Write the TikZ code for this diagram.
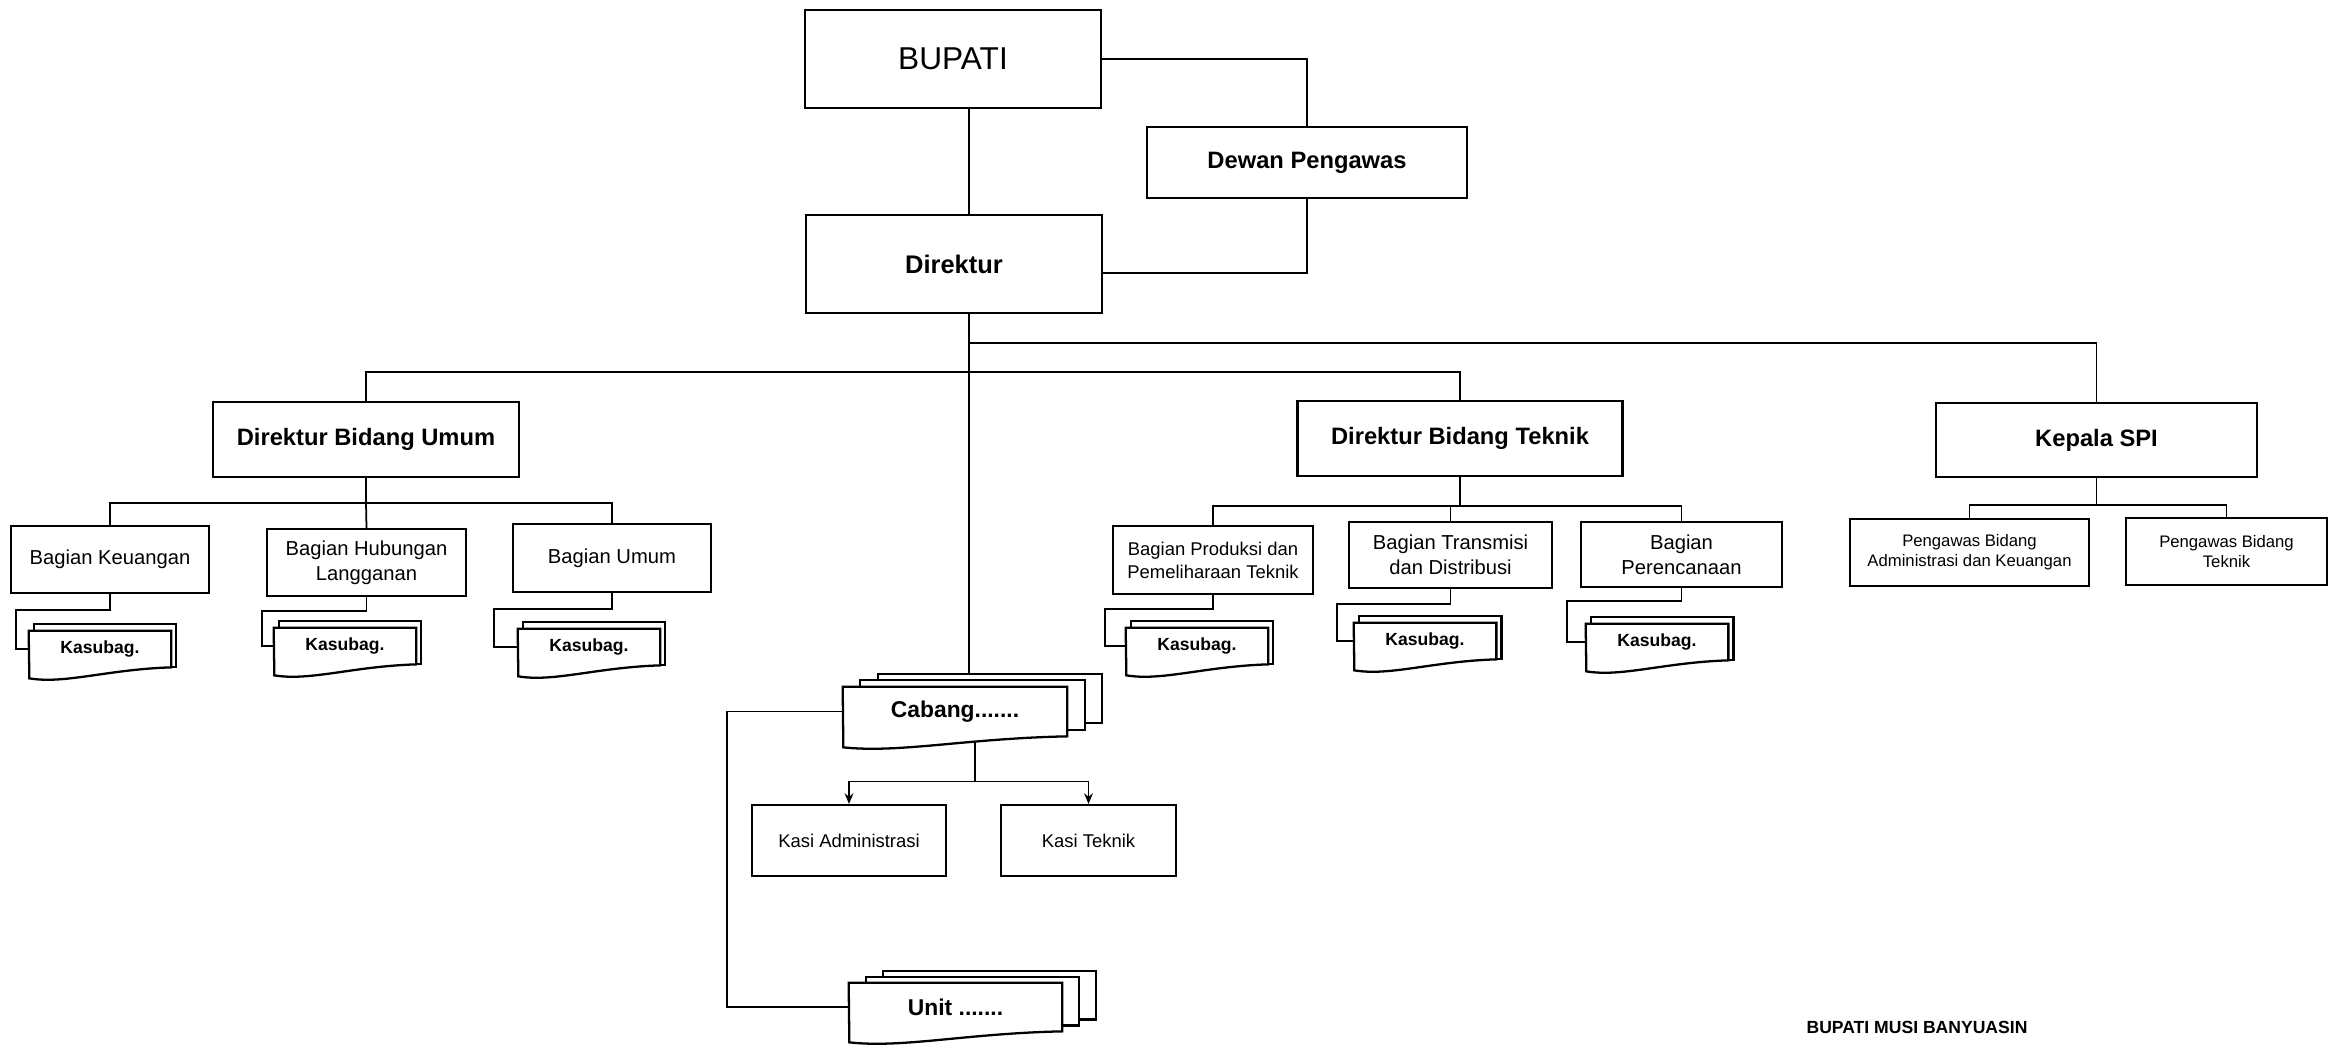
\documentclass[tikz,border=0pt]{standalone}
\usepackage{fontspec}
\setmainfont{Liberation Sans}
\usetikzlibrary{arrows.meta,backgrounds,calc}

\tikzset{
  box/.style={draw, line width=1.3pt, align=center, inner sep=1pt},
  line/.style={draw, line width=1pt},
  doc/.style={draw, fill=white, line width=1.3pt},
  kasubag/.style={inner sep=0pt, minimum width=2.84cm, minimum height=0.72cm, font=\bfseries\fontsize{10}{12}\selectfont},
  head/.style={font=\bfseries\fontsize{13.5}{16}\selectfont},
  bagian/.style={font=\fontsize{11.5}{14}\selectfont},
  small/.style={font=\fontsize{9.5}{11.5}\selectfont},
}

% stacked pages with a wavy bottom: node, width, back layers, dx, dy, bottom rise
\newcommand\docstack[6]{%
  \begin{scope}[on background layer]
    \foreach \k in {#3,...,1}{
      \draw[doc] ([shift={(\k*#4,-\k*#5)}]#1.north west) rectangle ([shift={(\k*#4,-\k*#6)}]#1.south east);
    }
    \draw[doc] (#1.north west) -- (#1.north east) -- (#1.south east)
      .. controls ([shift={(-0.45*#2,2)}]#1.south east) and ([shift={(-0.75*#2,17)}]#1.south east)
      .. ([shift={(-#2,11)}]#1.south east) coordinate[pos=0.34] (#1-wave) -- cycle;
    \coordinate (#1-back) at ([shift={(#3*#4,-#3*#5)}]#1.north west);
  \end{scope}}

\begin{document}
\begin{tikzpicture}[x=0.02cm,y=-0.02cm]
\useasboundingbox (0,0) rectangle (2338,1044);

% top
\node [box, minimum width=5.92cm, minimum height=1.96cm, font=\fontsize{18}{21}\selectfont] (bupati) at (953,59) {BUPATI};
\node [box, head, minimum width=6.4cm, minimum height=1.42cm] (dewan) at (1307,162.5) {Dewan Pengawas};
\node [box, minimum width=5.92cm, minimum height=1.96cm, font=\bfseries\fontsize{14.5}{17}\selectfont] (direktur) at (954,264) {Direktur};

% second level
\node [box, head, minimum width=6.12cm, minimum height=1.5cm] (dbu) at (366,439.5) {Direktur Bidang Umum};
\node [box, head, minimum width=6.5cm, minimum height=1.5cm] (dbt) at (1460,438.5) {Direktur Bidang Teknik};
\node [box, head, minimum width=6.42cm, minimum height=1.48cm] (kspi) at (2096.5,440) {Kepala SPI};

% bagian
\node [box, bagian, minimum width=3.96cm, minimum height=1.34cm] (keu) at (110,559.5) {Bagian Keuangan};
\node [box, bagian, minimum width=3.98cm, minimum height=1.34cm] (hub) at (366.5,562.5) {Bagian Hubungan\\Langganan};
\node [box, bagian, minimum width=3.96cm, minimum height=1.36cm] (umum) at (612,558) {Bagian Umum};
\node [box, minimum width=4.0cm, minimum height=1.36cm, font=\fontsize{10.5}{13}\selectfont] (prod) at (1213,560) {Bagian Produksi dan\\Pemeliharaan Teknik};
\node [box, bagian, minimum width=4.06cm, minimum height=1.32cm] (trans) at (1450.5,555) {Bagian Transmisi\\dan Distribusi};
\node [box, bagian, minimum width=4.02cm, minimum height=1.3cm] (renc) at (1681.5,554.5) {Bagian\\Perencanaan};
\node [box, small, minimum width=4.78cm, minimum height=1.34cm] (pwadm) at (1969.5,552.5) {Pengawas Bidang\\Administrasi dan Keuangan};
\node [box, small, minimum width=4.02cm, minimum height=1.34cm] (pwtek) at (2226.5,551.5) {Pengawas Bidang\\Teknik};

% kasubag
\node [kasubag] (ksbkeu) at (100,649) {Kasubag.};
\node [kasubag] (ksbhub) at (345,646) {Kasubag.};
\node [kasubag] (ksbumum) at (589,647) {Kasubag.};
\node [kasubag] (ksbprod) at (1197,646) {Kasubag.};
\node [kasubag] (ksbtrans) at (1425,641) {Kasubag.};
\node [kasubag] (ksbrenc) at (1657,642) {Kasubag.};
\docstack{ksbkeu}{142}{1}{5}{7}{0}
\docstack{ksbhub}{142}{1}{5}{7}{0}
\docstack{ksbumum}{142}{1}{5}{7}{0}
\docstack{ksbprod}{142}{1}{5}{7}{0}
\docstack{ksbtrans}{142}{1}{5}{7}{0}
\docstack{ksbrenc}{142}{1}{5}{7}{0}

% cabang and unit
\node [inner sep=0pt, minimum width=4.48cm, minimum height=0.98cm, font=\bfseries\fontsize{13}{15}\selectfont] (cabang) at (955,711.5) {Cabang.......};
\node [inner sep=0pt, minimum width=4.26cm, minimum height=0.96cm, font=\bfseries\fontsize{13}{15}\selectfont] (unit) at (955.5,1007) {Unit .......};
\docstack{cabang}{224}{2}{17.5}{6.5}{6.5}
\docstack{unit}{213}{2}{17}{6}{6}
\node [box, minimum width=3.88cm, minimum height=1.42cm, font=\fontsize{10.5}{13}\selectfont] (kasiadm) at (849,840.5) {Kasi Administrasi};
\node [box, minimum width=3.5cm, minimum height=1.42cm, font=\fontsize{10.5}{13}\selectfont] (kasitek) at (1088.5,840.5) {Kasi Teknik};

\node [font=\bfseries\fontsize{10}{12}\selectfont] (ttd) at (1917,1027) {BUPATI MUSI BANYUASIN};

% connectors
\coordinate (trunk) at (969,0);
\coordinate (spijoin) at (969,343);
\coordinate (bidjoin) at (969,372);
\draw [line] (bupati.south -| trunk) -- (direktur.north -| trunk);
\draw [line] (bupati.east) -| (dewan.north);
\draw [line] (dewan.south) |- ([yshift=-0.18cm]direktur.east);
\draw [line] (direktur.south -| trunk) -- (trunk |- cabang-back);
\draw [line] (spijoin) -| (kspi.north);
\draw [line] (dbu.north) |- (bidjoin) -| (dbt.north);

\draw [line] (dbu.south) -- ++(0,25) coordinate (dbusplit);
\draw [line] (keu.north) |- (dbusplit) -| (umum.north);
\draw [line] (dbusplit) -- (hub.north);
\draw [line] (dbt.south) -- ++(0,29) coordinate (dbtsplit);
\draw [line] (prod.north) |- (dbtsplit) -| (renc.north);
\draw [line] (dbtsplit) -| (trans.north);
\draw [line] (kspi.south) -- ++(0,27) coordinate (spisplit);
\draw [line] (pwadm.north) |- (spisplit) -| (pwtek.north);

\draw [line] (keu.south) -- ++(0,16) -| ([xshift=-0.26cm]ksbkeu.west) -- (ksbkeu.west);
\draw [line] (hub.south) -- ++(0,14) -| ([xshift=-0.24cm]ksbhub.west) -- (ksbhub.west);
\draw [line] (umum.south) -- ++(0,16) -| ([xshift=-0.48cm]ksbumum.west) -- (ksbumum.west);
\draw [line] (prod.south) -- ++(0,14) -| ([xshift=-0.42cm]ksbprod.west) -- (ksbprod.west);
\draw [line] (trans.south) -- ++(0,15) -| ([xshift=-0.34cm]ksbtrans.west) -- (ksbtrans.west);
\draw [line] (renc.south) -- ++(0,13) -| ([xshift=-0.38cm]ksbrenc.west) -- (ksbrenc.west);

\draw [line] (cabang-wave) -- ++(0,40) coordinate (cabsplit);
\draw [line, -{Stealth[length=6pt,width=5pt]}] (cabsplit) -| (kasiadm.north);
\draw [line, -{Stealth[length=6pt,width=5pt]}] (cabsplit) -| (kasitek.north);
\draw [line] (cabang.west) -- ++(-116,0) |- (unit.west);
\end{tikzpicture}
\end{document}
